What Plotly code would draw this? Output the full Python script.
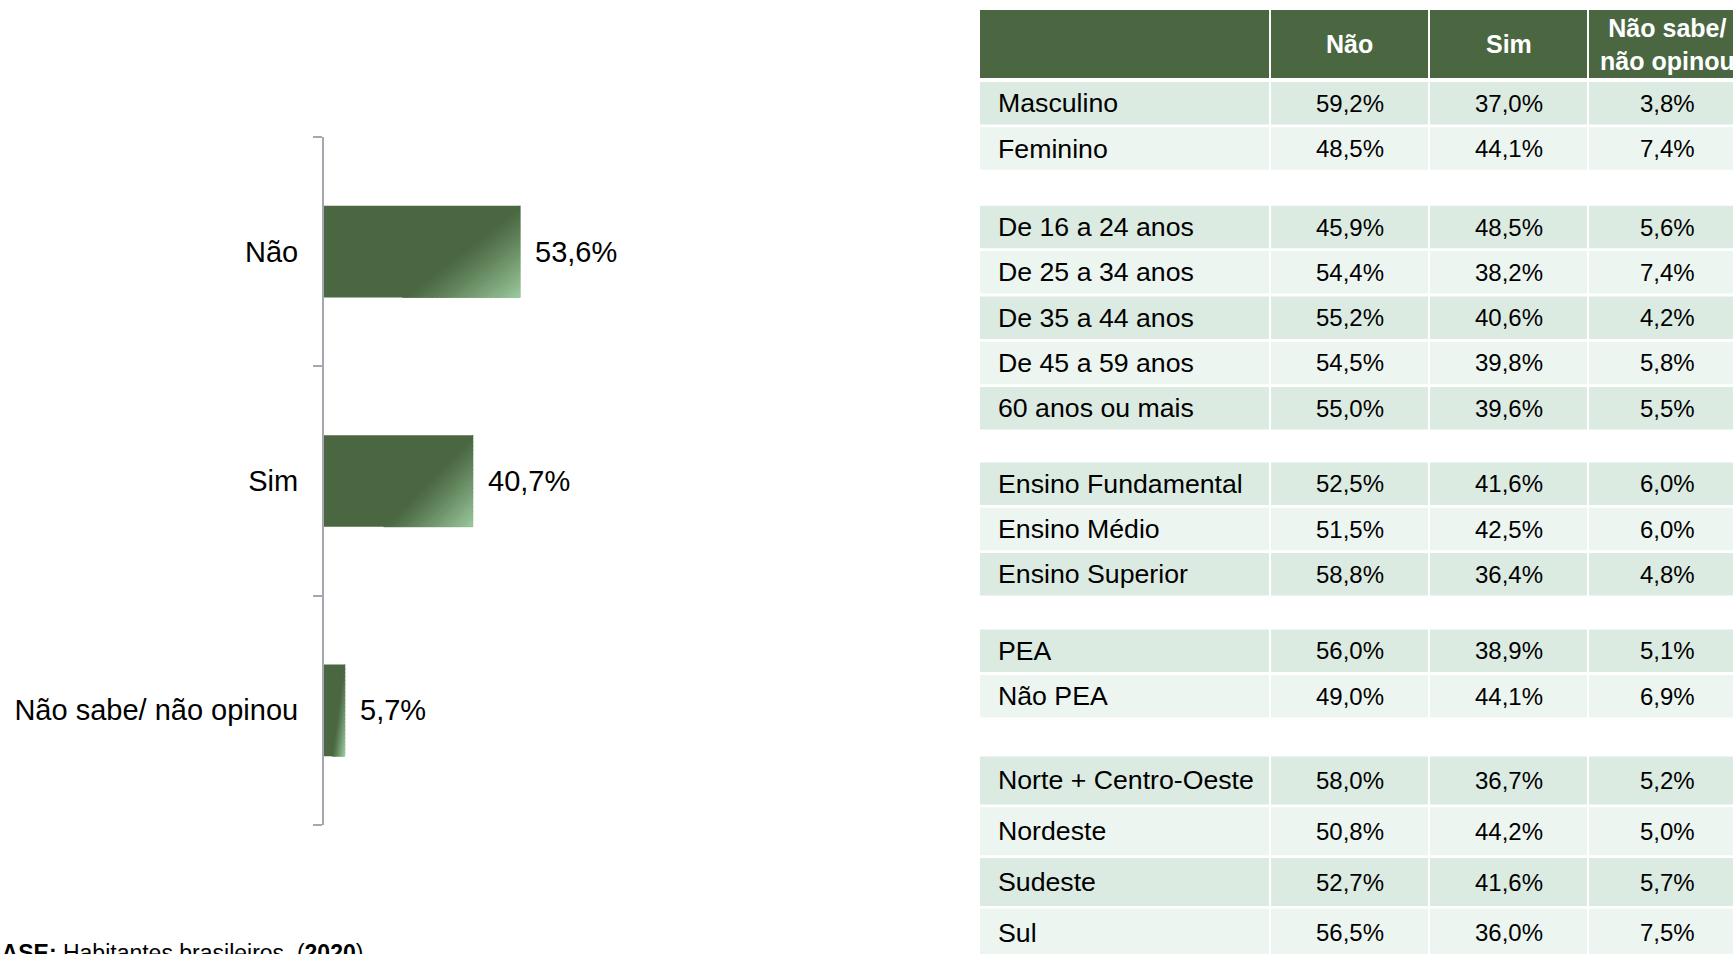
import plotly.graph_objects as go

# ---- left chart data ----
answers = ["Não", "Sim", "Não sabe/ não opinou"]
answer_pct = [53.6, 40.7, 5.7]

# ---- table data ----
col_headers = ["", "Não", "Sim", "Não sabe/<br>não opinou"]
sexo = ["Masculino", "Feminino"]
idade = ["De 16 a 24 anos", "De 25 a 34 anos", "De 35 a 44 anos", "De 45 a 59 anos", "60 anos ou mais"]
escolaridade = ["Ensino Fundamental", "Ensino Médio", "Ensino Superior"]
pea = ["PEA", "Não PEA"]
regiao = ["Norte + Centro-Oeste", "Nordeste", "Sudeste", "Sul"]
groups = [sexo, idade, escolaridade, pea, regiao]

pct_nao = [59.2, 48.5, 45.9, 54.4, 55.2, 54.5, 55.0, 52.5, 51.5, 58.8, 56.0, 49.0, 58.0, 50.8, 52.7, 56.5]
pct_sim = [37.0, 44.1, 48.5, 38.2, 40.6, 39.8, 39.6, 41.6, 42.5, 36.4, 38.9, 44.1, 36.7, 44.2, 41.6, 36.0]
pct_ns = [3.8, 7.4, 5.6, 7.4, 4.2, 5.8, 5.5, 6.0, 6.0, 4.8, 5.1, 6.9, 5.2, 5.0, 5.7, 7.5]

W, H = 1733, 954
FONT = "Liberation Sans, Arial, sans-serif"
GREEN = "#4A6741"
LIGHT = (157, 203, 159)
DARK = (74, 103, 65)
ROW_DARK = "#DCEBE2"
ROW_LIGHT = "#EDF5F0"
AXIS_GRAY = "#A3A7AE"


def fmt(v):
    return f"{v:.1f}".replace(".", ",") + "%"


fig = go.Figure()

# bars
ypos = list(range(len(answers)))
fig.add_trace(go.Bar(
    x=answer_pct, y=ypos, orientation="h", width=0.4,
    marker=dict(color=GREEN, line=dict(width=0)),
    hoverinfo="skip", showlegend=False,
))

# diagonal light gradient in the lower right corner of each bar
n_strips = 24
u0 = 0.4
for k in range(n_strips):
    s0, s1 = k / n_strips, (k + 1) / n_strips
    t = ((s0 + s1) / 2) ** 1.15
    col = "rgb(%d,%d,%d)" % tuple(round(d + (l - d) * t) for d, l in zip(DARK, LIGHT))
    xs, ys = [], []
    for i, v in zip(ypos, answer_pct):
        pts = [(u0 + (1 - u0) * s0, 1), (u0 + (1 - u0) * s1, 1), (1, s1), (1, s0)]
        for u, w in pts + pts[:1]:
            xs.append(v * u)
            ys.append(i - 0.2 + 0.4 * w)
        xs.append(None)
        ys.append(None)
    fig.add_trace(go.Scatter(
        x=xs, y=ys, mode="lines", fill="toself", fillcolor=col,
        line=dict(width=0.6, color=col), hoverinfo="skip", showlegend=False,
    ))

annotations = []
for i, v in zip(ypos, answer_pct):
    annotations.append(dict(
        x=v, y=i, xref="x", yref="y", text=fmt(v), showarrow=False,
        xanchor="left", yanchor="middle", xshift=13,
        font=dict(size=29, color="black", family=FONT),
    ))

# ---- table, drawn on a pixel-unit axis pair ----
col_left = [980, 1271, 1430, 1589]
col_width = [289, 157, 157, 157]
HEADER_TOP, HEADER_H, HEADER_GAP = 10, 68, 4
ROW_GAP = 2.8
group_row_h = [42.5, 42.5, 42.5, 42.5, 48]
group_sep = [36, 33, 34, 39]

row_labels, row_center, row_h, row_fill = [], [], [], []
y = HEADER_TOP + HEADER_H + HEADER_GAP
for gi, g in enumerate(groups):
    if gi > 0:
        y += group_sep[gi - 1]
    for ri, lab in enumerate(g):
        h = group_row_h[gi]
        row_labels.append(lab)
        row_center.append(y + h / 2)
        row_h.append(h)
        row_fill.append(ROW_DARK if ri % 2 == 0 else ROW_LIGHT)
        y += h + (ROW_GAP if ri < len(g) - 1 else 0)

centers = [HEADER_TOP + HEADER_H / 2] + row_center
heights = [HEADER_H] + row_h
fills = [GREEN] + row_fill
for j in range(len(col_headers)):
    fig.add_trace(go.Bar(
        x=[col_width[j]] * len(centers), base=[col_left[j]] * len(centers),
        y=centers, width=heights, orientation="h",
        marker=dict(color=fills, line=dict(width=0)),
        xaxis="x2", yaxis="y2", hoverinfo="skip", showlegend=False,
    ))

for j, head in enumerate(col_headers):
    if head:
        annotations.append(dict(
            x=col_left[j] + col_width[j] / 2, y=centers[0], xref="x2", yref="y2",
            text=f"<b>{head}</b>", showarrow=False, xanchor="center", yanchor="middle",
            font=dict(size=25, color="white", family=FONT),
        ))

for lab, yc in zip(row_labels, row_center):
    annotations.append(dict(
        x=col_left[0] + 16, y=yc, xref="x2", yref="y2", text=lab, showarrow=False,
        xanchor="left", yanchor="middle", font=dict(size=26.7, color="black", family=FONT),
    ))

for j, vals in zip([1, 2, 3], [pct_nao, pct_sim, pct_ns]):
    for v, yc in zip(vals, row_center):
        annotations.append(dict(
            x=col_left[j] + col_width[j] / 2, y=yc, xref="x2", yref="y2", text=fmt(v),
            showarrow=False, xanchor="center", yanchor="middle",
            font=dict(size=24, color="black", family=FONT),
        ))

# footnote (partly cut off at the edges, as in the source)
annotations.append(dict(
    x=-17 / W, y=1 - 953 / H, xref="paper", yref="paper",
    text="<b>BASE:</b> Habitantes brasileiros. (<b>2020</b>)", showarrow=False,
    xanchor="left", yanchor="middle", font=dict(size=23, color="black", family=FONT),
))

fig.update_layout(
    width=W, height=H, autosize=False,
    margin=dict(l=0, r=0, t=0, b=0),
    paper_bgcolor="white", plot_bgcolor="rgba(0,0,0,0)",
    barmode="overlay", showlegend=False,
    font=dict(family=FONT, color="black"),
    xaxis=dict(domain=[324 / W, 690 / W], range=[0, 100], visible=False, fixedrange=True),
    yaxis=dict(
        domain=[1 - 825 / H, 1 - 137 / H], range=[2.5, -0.5],
        tickmode="array", tickvals=ypos, ticktext=answers, ticks="",
        tickfont=dict(size=29, color="black", family=FONT), ticklabelstandoff=18,
        showline=True, linecolor=AXIS_GRAY, linewidth=2,
        showgrid=False, zeroline=False,
        minor=dict(tickmode="array", tickvals=[-0.5, 0.5, 1.5, 2.5], ticks="outside",
                   ticklen=9, tickwidth=2, tickcolor=AXIS_GRAY, showgrid=False),
    ),
    xaxis2=dict(domain=[0, 1], range=[0, W], visible=False, anchor="y2", fixedrange=True),
    yaxis2=dict(domain=[0, 1], range=[H, 0], visible=False, anchor="x2", fixedrange=True),
    annotations=annotations,
)

# drop the browser's default page margin so the figure sits at the window corner
fig.write_html("out.html", config={"displayModeBar": False},
               post_script="document.body.style.margin='0';")
